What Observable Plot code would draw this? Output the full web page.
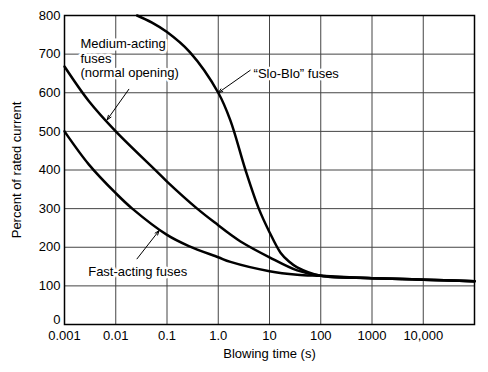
<!DOCTYPE html>
<html><head><meta charset="utf-8">
<script src="https://cdn.jsdelivr.net/npm/d3@7"></script>
<script src="https://cdn.jsdelivr.net/npm/@observablehq/plot@0.6"></script>
<style>body{margin:0;background:#fff;}</style>
</head><body><div id="chart"></div>
<script>
const xTicks = [0.001, 0.01, 0.1, 1, 10, 100, 1000, 10000];
const xTickLabels = ["0.001", "0.01", "0.1", "1.0", "10", "100", "1000", "10,000"];
const yTicks = [0, 100, 200, 300, 400, 500, 600, 700, 800];

const fastTime = [0.001, 0.003, 0.01, 0.021, 0.1, 0.267, 1, 1.73, 10, 34.7, 100, 1000, 10000, 100000];
const fastPct  = [500, 414, 340, 300, 232, 203, 174, 162, 138, 129, 126, 120, 116, 112];

const medTime = [0.001, 0.003, 0.01, 0.06, 0.1, 0.388, 1, 1.73, 2.72, 10, 34.7, 100, 1000, 10000, 100000];
const medPct  = [668, 578, 500, 399, 370, 300, 257, 233, 215, 174, 140, 126, 120, 116, 112];

const sloTime = [0.026, 0.05, 0.1, 0.279, 1, 1.73, 3.4, 6.18, 10, 16.4, 24, 34.7, 100, 1000, 10000, 100000];
const sloPct  = [800, 782, 757, 705, 600, 528, 400, 300, 239, 186, 163, 148, 126, 120, 116, 112];

const noteText = ["Medium-acting\nfuses\n(normal opening)", "\u201cSlo-Blo\u201d fuses", "Fast-acting fuses"];
const noteX = [0.00205, 4.9, 0.0029];
const noteY = [742, 664, 152];

const arrowX1 = [0.018, 4.2, 0.026];
const arrowY1 = [609, 658, 170];
const arrowX2 = [0.0068, 1.0, 0.07];
const arrowY2 = [530, 600, 243];

const series = (t, p) => t.map((d, i) => ({t: d, p: p[i]}));
const notes = noteText.map((s, i) => ({s, x: noteX[i], y: noteY[i]}));
const arrows = arrowX1.map((d, i) => ({x1: d, y1: arrowY1[i], x2: arrowX2[i], y2: arrowY2[i]}));

const chart = Plot.plot({
  width: 488, height: 372,
  marginLeft: 64, marginRight: 14, marginTop: 15, marginBottom: 48,
  style: {fontFamily: "'Liberation Sans', Arial, sans-serif", fontSize: "13px", background: "white", color: "black"},
  x: {type: "log", domain: [0.001, 100000]},
  y: {domain: [0, 800]},
  marks: [
    Plot.gridX(xTicks, {stroke: "#444", strokeOpacity: 1, strokeWidth: 1}),
    Plot.gridY(yTicks, {stroke: "#444", strokeOpacity: 1, strokeWidth: 1}),
    Plot.frame({stroke: "black", strokeWidth: 1.5}),
    Plot.axisX(xTicks, {tickSize: 0, tickPadding: 6, fontSize: 13,
      tickFormat: d => xTickLabels[xTicks.indexOf(d)],
      label: "Blowing time (s)", labelAnchor: "center", labelArrow: "none", labelOffset: 33}),
    Plot.axisY(yTicks.filter(d => d > 0), {tickSize: 0, tickPadding: 4, fontSize: 13,
      label: "Percent of rated current", labelAnchor: "center", labelArrow: "none", labelOffset: 53}),
    Plot.axisY([0], {tickSize: 0, tickPadding: 4, fontSize: 13, dy: -5, label: null}),
    Plot.line(series(fastTime, fastPct), {x: "t", y: "p", stroke: "black", strokeWidth: 2.5, curve: "catmull-rom"}),
    Plot.line(series(medTime, medPct), {x: "t", y: "p", stroke: "black", strokeWidth: 2.5, curve: "catmull-rom"}),
    Plot.line(series(sloTime, sloPct), {x: "t", y: "p", stroke: "black", strokeWidth: 2.5, curve: "catmull-rom"}),
    Plot.text(notes, {x: "x", y: "y", text: "s", textAnchor: "start", lineAnchor: "top", lineHeight: 1.12,
      fontSize: 13, fill: "black", stroke: "white", strokeWidth: 5}),
    Plot.arrow(arrows, {x1: "x1", y1: "y1", x2: "x2", y2: "y2", stroke: "black", strokeWidth: 1, headLength: 7, headAngle: 40})
  ]
});
document.getElementById("chart").appendChild(chart);
</script>
</body></html>
